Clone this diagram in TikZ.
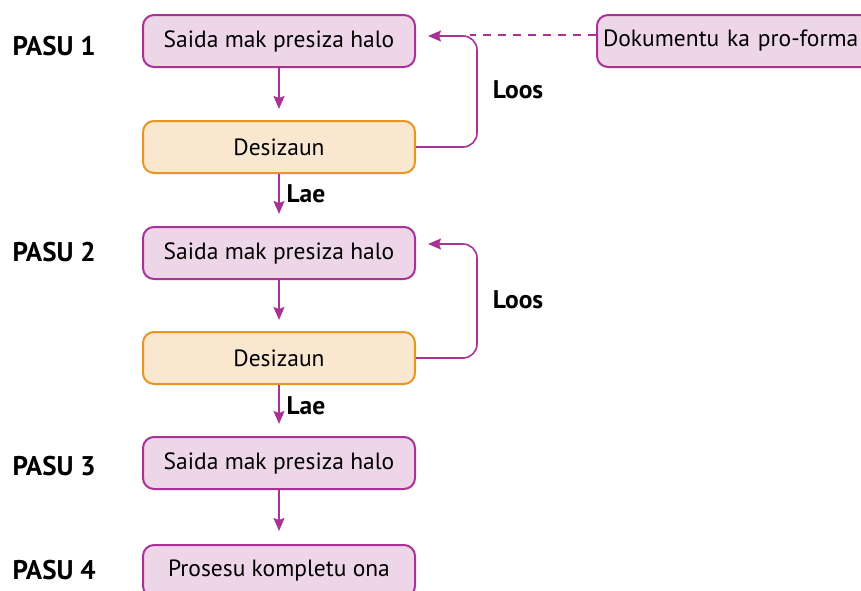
\documentclass[tikz,border=0pt]{standalone}
\usepackage{fontspec}
\setmainfont{PT Sans}
\usetikzlibrary{arrows.meta}
\definecolor{plum}{RGB}{168,50,150}
\definecolor{plumfill}{RGB}{238,214,233}
\definecolor{amber}{RGB}{232,150,35}
\definecolor{amberfill}{RGB}{250,231,207}
\begin{document}
\begin{tikzpicture}[x=1pt, y=-1pt,
    task/.style={draw=plum, fill=plumfill, line width=2pt, rounded corners=11pt,
      minimum width=272pt, minimum height=52pt, font=\fontsize{23.5}{28}\selectfont},
    choice/.style={task, draw=amber, fill=amberfill},
    flow/.style={plum, line width=1.6pt, -{Stealth[length=13pt,width=11pt,inset=2pt]}},
    steplabel/.style={anchor=west, font=\bfseries\fontsize{27}{32}\selectfont},
    tag/.style={font=\bfseries\fontsize{25.5}{30}\selectfont}]
  \useasboundingbox (0,0) rectangle (861,590);
  \clip (0,0) rectangle (861,590);
  % boxes of the four steps
  \node[task] (s1) at (279,41) {Saida mak presiza halo};
  \node[choice] (d1) at (279,147) {Desizaun};
  \node[task] (s2) at (279,253) {Saida mak presiza halo};
  \node[choice] (d2) at (279,358) {Desizaun};
  \node[task] (s3) at (279,463) {Saida mak presiza halo};
  \node[task] (s4) at (279,571) {Prosesu kompletu ona};
  \node[task, anchor=west, minimum width=0pt, text width=280pt, align=left, inner sep=6pt] (doc) at (596,41) {Dokumentu ka pro-forma};
  \node[steplabel] (p1) at (9,46) {PASU 1};
  \node[steplabel] (p2) at (9,252) {PASU 2};
  \node[steplabel] (p3) at (9,466) {PASU 3};
  \node[steplabel] (p4) at (9,570) {PASU 4};
  % downward flow
  \draw[flow, shorten >=11pt] (s1) -- (d1);
  \draw[flow, shorten >=12pt] (d1) -- (s2);
  \draw[flow, shorten >=11pt] (s2) -- (d2);
  \draw[flow, shorten >=12pt] (d2) -- (s3);
  \draw[flow, shorten >=13pt] (s3) -- (s4);
  \node[tag, anchor=west] (lae1) at (283,194) {Lae};
  \node[tag, anchor=west] (lae2) at (283,406) {Lae};
  % loops back
  \coordinate (back1) at (428,36);
  \coordinate (back2) at (428,244);
  \draw[plum, line width=1.4pt, dash pattern=on 8pt off 7pt] ([yshift=6pt]doc.west) -- (470,35);
  \draw[flow, rounded corners=14pt] (d1.east) -| (477,36) -- (back1);
  \draw[flow, rounded corners=14pt] (d2.east) -| (477,244) -- (back2);
  \node[tag] (loos1) at (518,90) {Loos};
  \node[tag] (loos2) at (518,300) {Loos};
\end{tikzpicture}
\end{document}
